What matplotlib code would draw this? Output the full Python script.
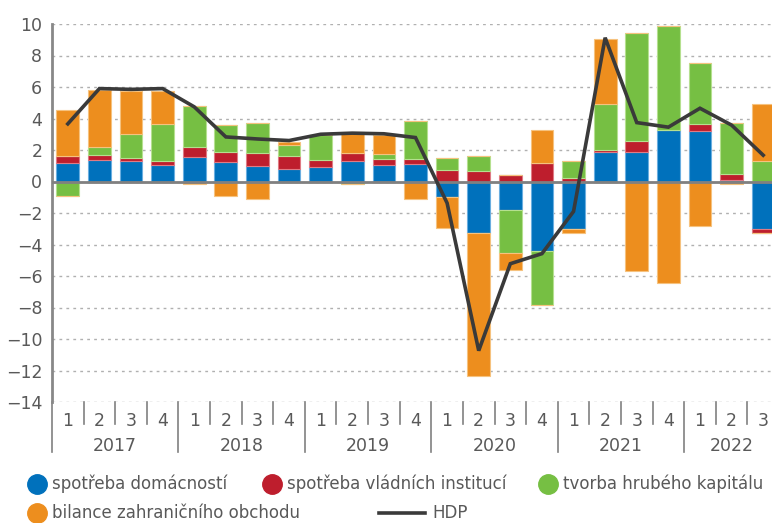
import numpy as np
import matplotlib
matplotlib.use("Agg")
import matplotlib.pyplot as plt
from matplotlib.lines import Line2D
import matplotlib.transforms as mtransforms

plt.rcParams['font.family'] = ['Liberation Sans Narrow', 'DejaVu Sans']

# quarters 2017Q1 .. 2022Q3
quarters = ['1', '2', '3', '4'] * 5 + ['1', '2', '3']
years = ['2017', '2018', '2019', '2020', '2021', '2022']

domacnosti = [1.17, 1.38, 1.29, 1.06, 1.57, 1.23, 0.98, 0.82, 0.91, 1.31, 1.04, 1.08,
              -0.99, -3.30, -1.79, -4.39, -3.00, 1.88, 1.86, 3.30, 3.23, 0.11, -3.02]
vladni = [0.42, 0.31, 0.23, 0.27, 0.59, 0.65, 0.80, 0.83, 0.45, 0.47, 0.42, 0.32,
          0.76, 0.68, 0.42, 1.20, 0.21, 0.15, 0.74, 0.0, 0.45, 0.36, -0.28]
kapital = [-0.95, 0.51, 1.48, 2.35, 2.62, 1.70, 1.92, 0.66, 1.60, -0.17, 0.28, 2.43,
           0.72, 0.97, -2.73, -3.47, 1.12, 2.88, 6.81, 6.57, 3.82, 3.23, 1.33]
obchod = [2.98, 3.61, 2.77, 2.09, -0.17, -0.89, -1.14, 0.19, -0.05, 1.39, 1.22, -1.14,
          -1.99, -9.08, -1.08, 2.08, -0.25, 4.14, -5.66, -6.42, -2.85, -0.17, 3.62]
hdp = [3.66, 5.90, 5.85, 5.90, 4.74, 2.83, 2.70, 2.60, 3.00, 3.07, 3.03, 2.79,
       -1.37, -10.74, -5.22, -4.58, -1.90, 9.13, 3.74, 3.45, 4.65, 3.58, 1.67]

series = [
    ('spotřeba domácností', domacnosti, '#0071bc', '#6aaee0'),
    ('spotřeba vládních institucí', vladni, '#be1e2d', '#e07a84'),
    ('tvorba hrubého kapitálu', kapital, '#76bf43', '#b5e08f'),
    ('bilance zahraničního obchodu', obchod, '#ed8e1e', '#f6c27e'),
]
grey = '#595959'

fig = plt.figure(figsize=(7.72, 5.23), dpi=100)
ax = fig.add_axes([52 / 772, 121 / 523, 727 / 772, 378 / 523])

x = np.arange(len(quarters))
pos_base = np.zeros(len(x))
neg_base = np.zeros(len(x))
for name, vals, col, edge in series:
    v = np.array(vals)
    pos = np.where(v > 0, v, 0)
    neg = np.where(v < 0, v, 0)
    ax.bar(x, pos, 0.72, bottom=pos_base, color=col, edgecolor=edge, linewidth=0.8, zorder=3)
    ax.bar(x, neg, 0.72, bottom=neg_base, color=col, edgecolor=edge, linewidth=0.8, zorder=3)
    pos_base += pos
    neg_base += neg

ax.plot(x, hdp, color='#3a3a3a', lw=2.6, zorder=5, solid_joinstyle='miter')

ax.set_xlim(-0.5, len(x) - 0.5)
ax.set_ylim(-14, 10)
ax.set_yticks(range(-14, 11, 2))
ax.yaxis.grid(True, color='#b0b0b0', linestyle=(0, (2, 3)), lw=1)
ax.set_axisbelow(True)
ax.axhline(0, color='#808080', lw=2, zorder=4)
for s in ['top', 'right', 'bottom']:
    ax.spines[s].set_visible(False)
ax.spines['left'].set_color('#888888')
ax.spines['left'].set_linewidth(2)
ax.tick_params(axis='y', length=0, pad=7, labelsize=12.5, labelcolor=grey)
ax.tick_params(axis='x', length=0, pad=7, labelsize=12.5, labelcolor=grey)
ax.set_xticks(x)
ax.set_xticklabels(quarters)

# separators and year labels
trans = mtransforms.blended_transform_factory(ax.transData, ax.transAxes)
for i in range(len(x)):
    start_year = i % 4 == 0
    ln = 50 / 378 if start_year else 22 / 378
    ax.plot([i - 0.5, i - 0.5], [0, -ln], transform=trans, color='#808080', lw=1.2, clip_on=False)
for k, yr in enumerate(years):
    idx = [i for i in range(len(x)) if i // 4 == k]
    ax.text(np.mean(idx), -0.116, yr, transform=trans, ha='center', va='center',
            fontsize=12.5, color=grey)

# legend
def legend_item(xm, xt, y, label, color=None, line=False):
    if line:
        fig.add_artist(Line2D([379 / 772, 425 / 772], [y, y], color='#3a3a3a', lw=2.6,
                              transform=fig.transFigure))
    else:
        fig.add_artist(Line2D([xm / 772], [y], marker='o', ms=14, color=color, lw=0,
                              transform=fig.transFigure))
    fig.text(xt / 772, y, label, ha='left', va='center', fontsize=12, color=grey)

row1 = 1 - 484 / 523
row2 = 1 - 513 / 523
legend_item(37, 52, row1, series[0][0], series[0][2])
legend_item(272, 287, row1, series[1][0], series[1][2])
legend_item(548, 563, row1, series[2][0], series[2][2])
legend_item(37, 52, row2, series[3][0], series[3][2])
legend_item(None, 432, row2, 'HDP', line=True)

fig.savefig('out.png', dpi=100)
